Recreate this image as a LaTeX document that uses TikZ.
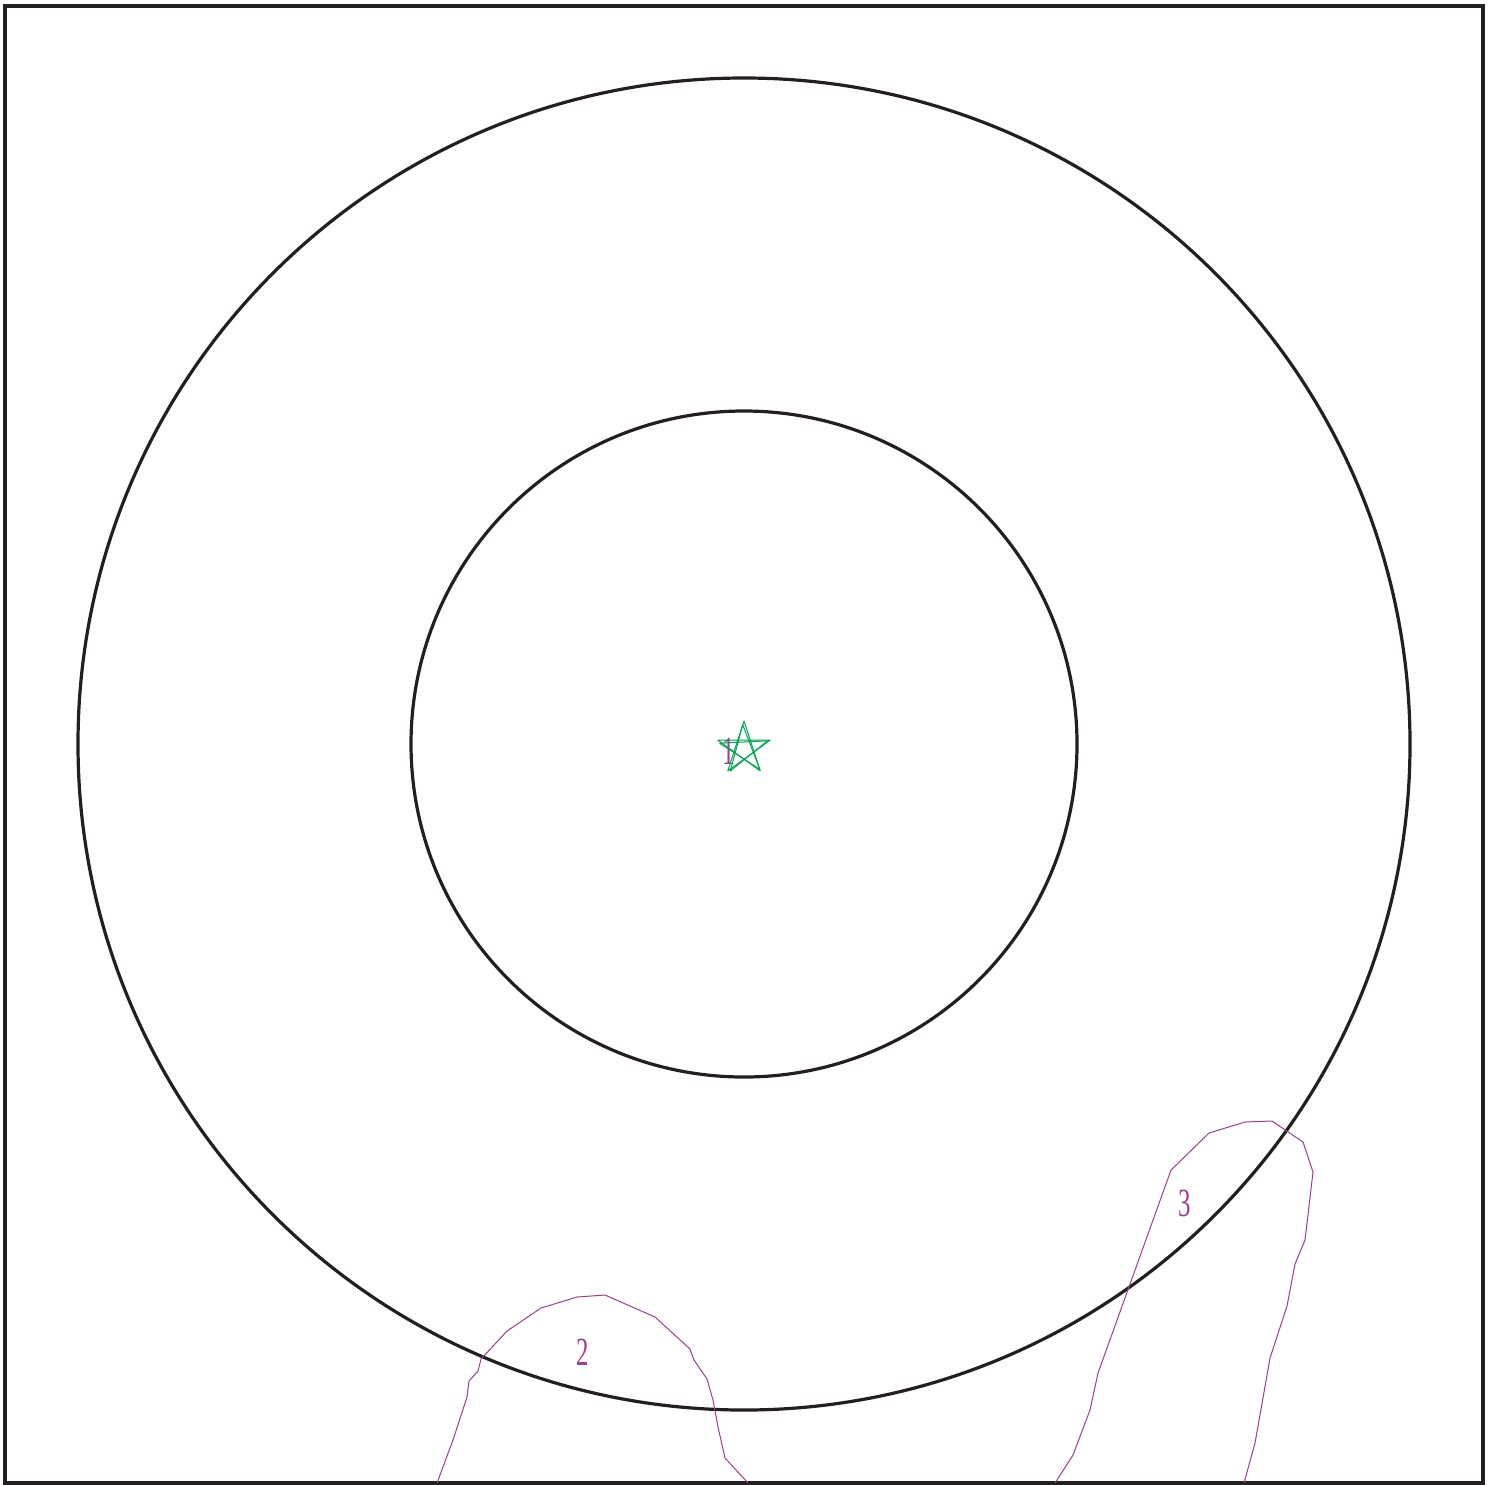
\documentclass[tikz,border=0pt]{standalone}
\usepackage{fontspec}
\usetikzlibrary{calc}
\setmainfont{Liberation Serif}
\definecolor{ink}{HTML}{231F20}
\definecolor{mag}{HTML}{A03C96}
\definecolor{grn}{HTML}{00A651}
\begin{document}
\begin{tikzpicture}[x=0.5pt,y=-0.5pt,
  ring/.style={draw=ink,line width=1.6pt},
  frame/.style={draw=ink,line width=2pt},
  zone/.style={draw=mag,line width=0.5pt,line join=round},
  lab/.style={text=mag,font=\fontsize{20}{24}\selectfont,xscale=0.62,inner sep=0pt},
  starline/.style={draw=grn,line width=0.5pt,line join=round}]
\useasboundingbox (0,0) rectangle (1491,1484);
\draw[frame] (5,5.5) rectangle (1483,1483);
\coordinate (c) at (744,744);
\draw[ring] (c) circle[radius=666*0.5pt];
\draw[ring] (c) circle[radius=333*0.5pt];
% zone 2
\draw[zone] (437,1483) -- (453,1440) -- (467,1397) -- (469,1381) -- (478,1371) -- (481,1359) -- (507,1331) -- (541,1308) -- (577,1297) -- (605,1295) -- (655,1317) -- (690,1349) -- (694,1360) -- (707,1379) -- (713,1400) -- (718,1427) -- (725,1458) -- (748,1483);
% zone 3
\draw[zone] (1055,1483) -- (1073,1455) -- (1090,1410) -- (1098,1373) -- (1171,1170) -- (1209,1133) -- (1245,1122) -- (1272,1121) -- (1303,1142) -- (1313,1172) -- (1305,1240) -- (1295,1264) -- (1287,1306) -- (1270,1358) -- (1255,1443) -- (1244,1483);
\node[lab] (l1) at (729,751) {1};
\node[lab] (l2) at (583,1352) {2};
\node[lab] (l3) at (1185,1203) {3};
% star
\coordinate (s) at (744,748.6);
\coordinate (s2) at (744,749.8);
\draw[starline] ($(s)+(90:13.8pt)$) -- ($(s)+(-54:13.8pt)$) -- ($(s)+(162:13.8pt)$) -- ($(s)+(18:13.8pt)$) -- ($(s)+(-126:13.8pt)$) -- cycle;
\draw[starline] ($(s2)+(93:12.6pt)$) -- ($(s2)+(-51:12.6pt)$) -- ($(s2)+(165:12.6pt)$) -- ($(s2)+(21:12.6pt)$) -- ($(s2)+(-123:12.6pt)$) -- cycle;
\end{tikzpicture}
\end{document}
